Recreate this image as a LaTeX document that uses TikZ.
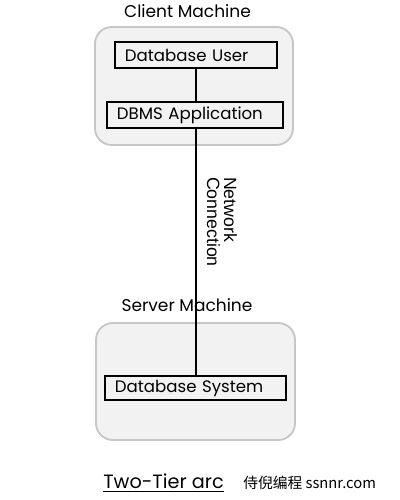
\documentclass[tikz,border=0pt]{standalone}
\usepackage{fontspec}
\setmainfont{Poppins}
\newfontfamily\netfont{Liberation Sans}
\newfontfamily\cjkfont{Noto Sans CJK SC}
\usetikzlibrary{calc, positioning}

\begin{document}
\begin{tikzpicture}[x=0.025cm, y=-0.025cm,
    machine/.style={draw=gray!45, line width=1.3pt, fill=gray!10, rounded corners=12pt},
    tier_box/.style={draw=black, line width=0.8pt, fill=gray!10, inner xsep=0.25cm,
      inner ysep=0pt, align=left, font=\fontsize{11.8}{13}\selectfont},
    title/.style={font=\fontsize{12.1}{14}\selectfont}]
    \path[use as bounding box] (0,0) rectangle (400,500);

    % client side
    \node[title] (client_label) at (187.5,11) {Client Machine};
    \node[machine, minimum width=4.95cm, minimum height=2.95cm] (client) at (194,86) {};
    \node[tier_box, text width=3.55cm, minimum height=0.65cm] (db_user) at (196,55) {Database User};
    \node[tier_box, text width=3.9cm, minimum height=0.65cm] (dbms_app) at (195,115) {DBMS Application};

    % server side
    \node[title] (server_label) at (187,305) {Server Machine};
    \node[machine, minimum width=4.975cm, minimum height=2.925cm] (server) at (195.5,381.5) {};
    \node[tier_box, text width=4.025cm, minimum height=0.6cm] (db_system) at (195.5,388) {Database System};

    % connection
    \draw[line width=1.2pt] (db_user.south) -- (db_user.south |- dbms_app.north);
    \draw[line width=1.2pt] (dbms_app.south -| db_user.south) -- (db_system.north -| db_user.south);
    \node[rotate=-90, align=left, font=\netfont\fontsize{12.6}{12.2}\selectfont] (net_label) at (222,222)
      {Network\\Connection};

    % caption
    \node[anchor=west, font=\fontsize{13.7}{15}\selectfont, inner sep=0pt] (caption) at (103,483) {\underline{Two-Tier arc}};
    \node[anchor=west, font=\cjkfont\fontsize{10.5}{12}\selectfont, inner sep=0pt] (site) at (243,483) {侍倪编程 ssnnr.com};

\end{tikzpicture}
\end{document}
